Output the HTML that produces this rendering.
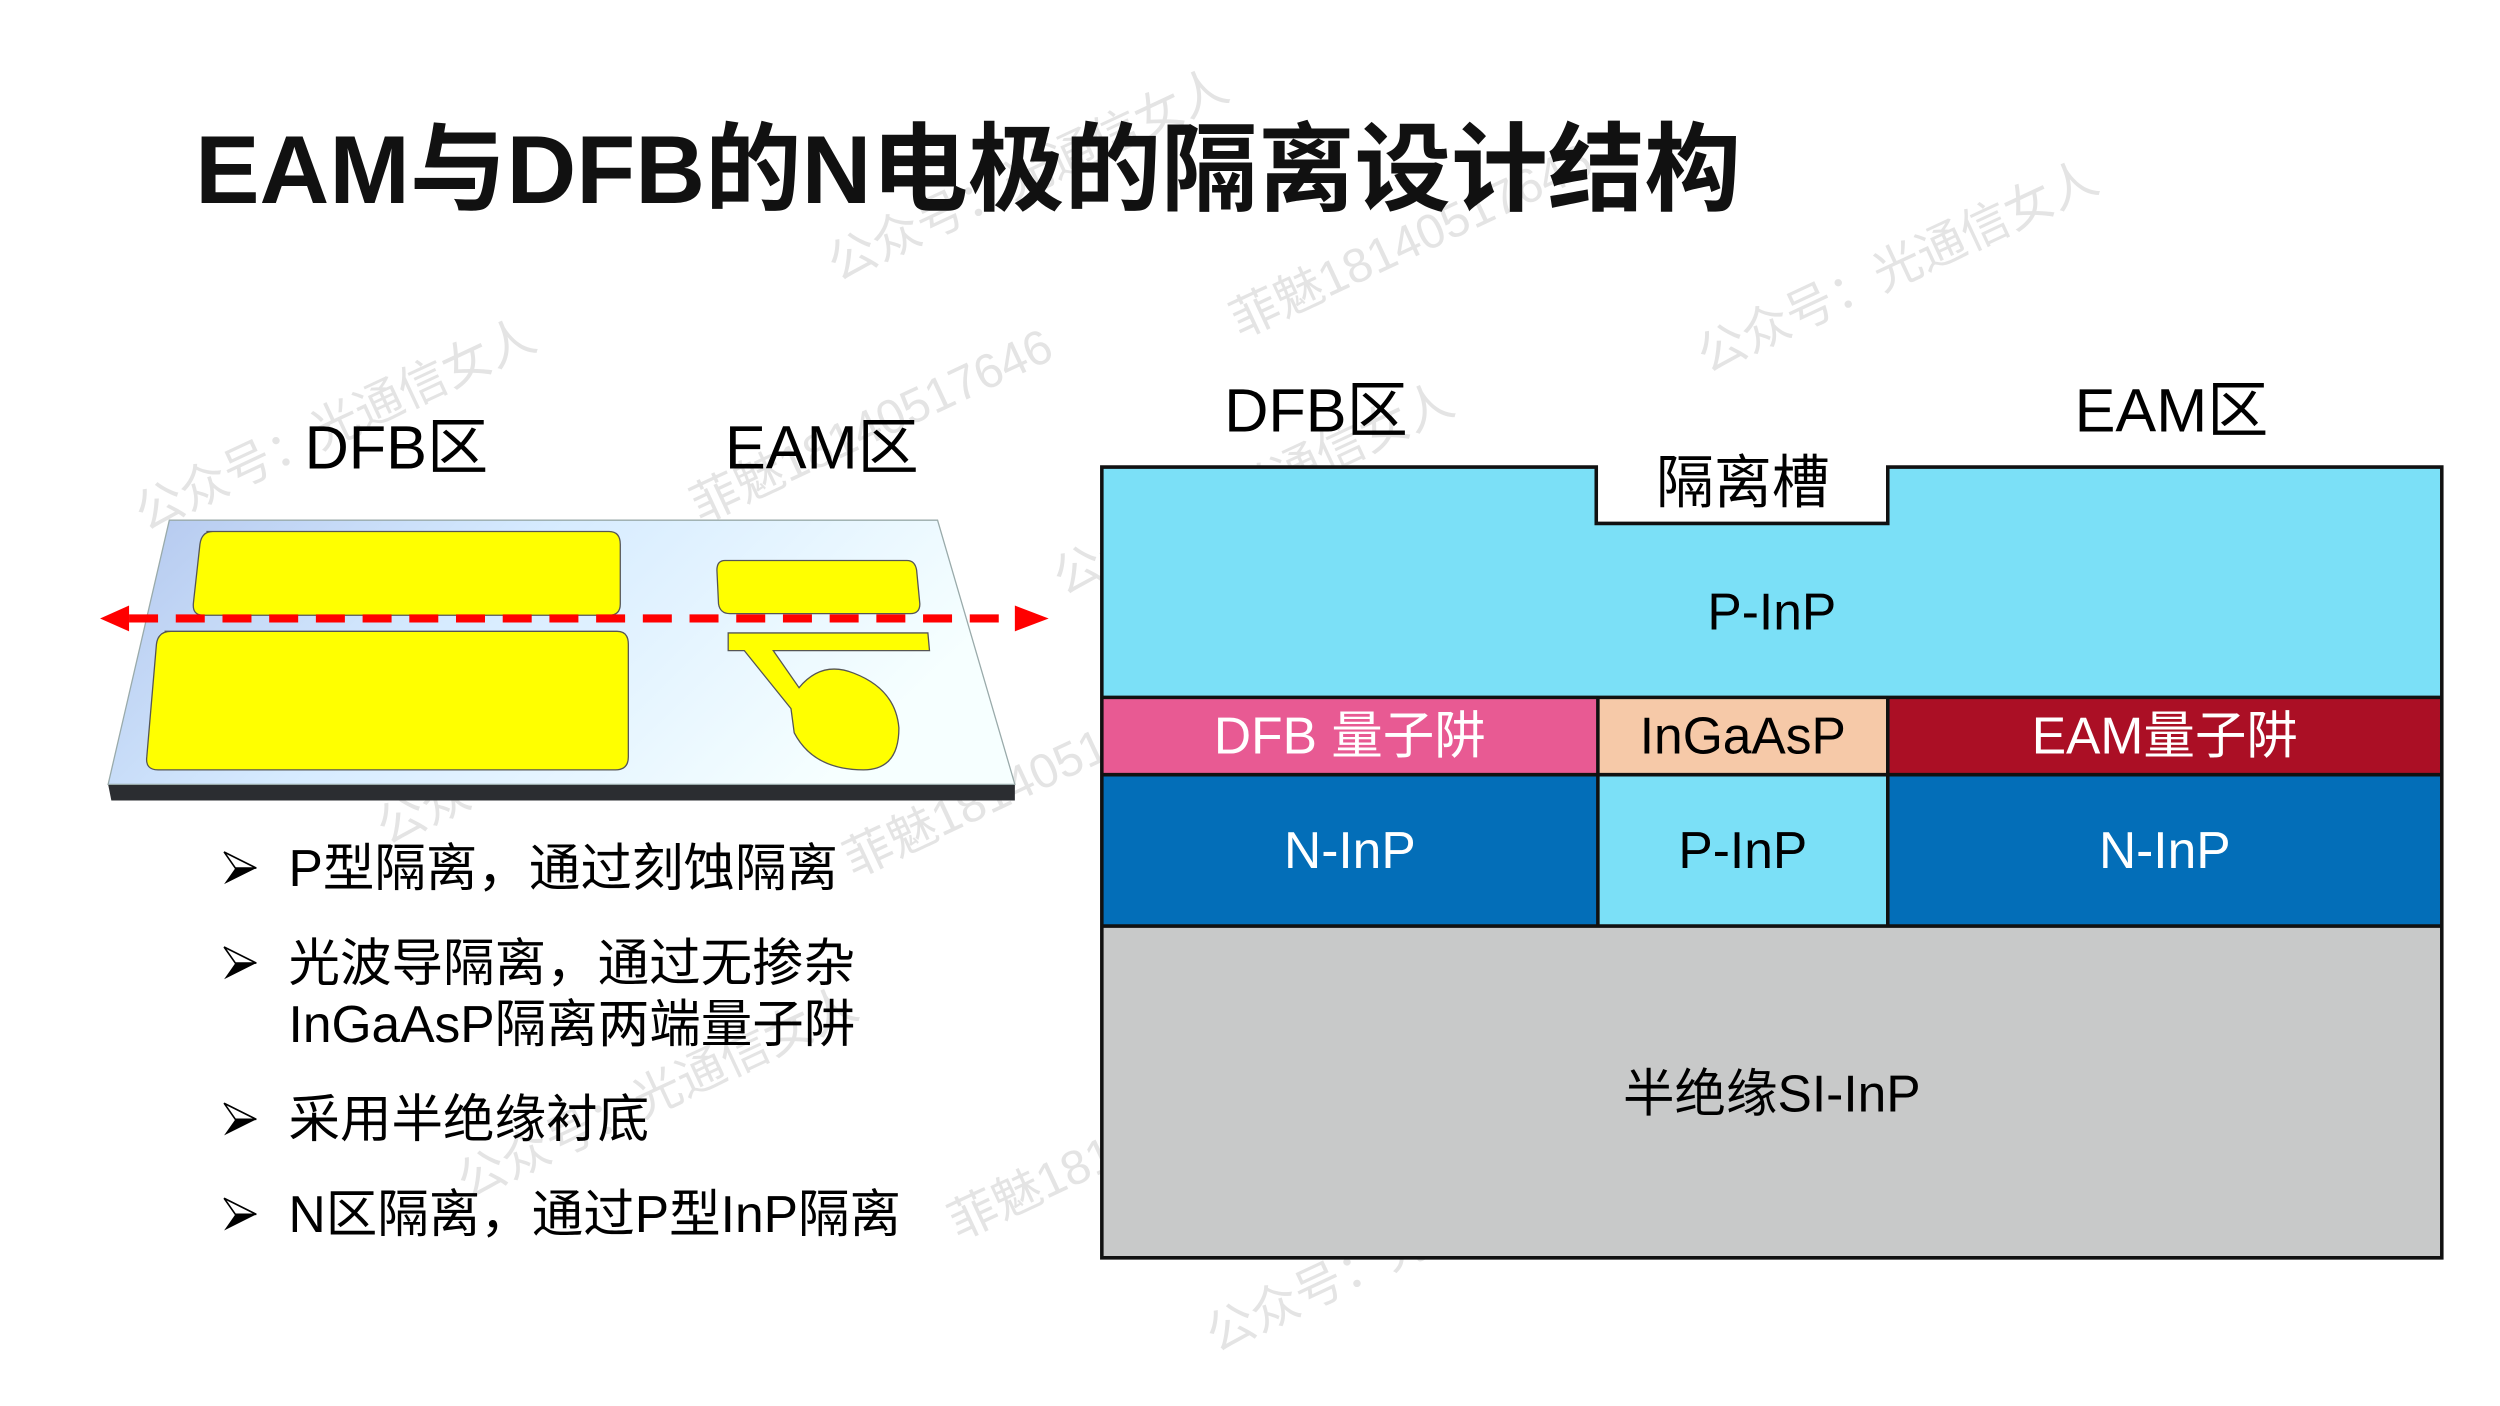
<!DOCTYPE html>
<html><head><meta charset="utf-8"><style>
html,body{margin:0;padding:0;background:#fff;width:2500px;height:1406px;overflow:hidden}
svg{display:block}
text{font-family:"Liberation Sans","Noto Sans CJK SC",sans-serif}
</style></head><body>
<svg width="2500" height="1406" viewBox="0 0 1552 873" xmlns="http://www.w3.org/2000/svg">
<defs>
<linearGradient id="chip" x1="0" y1="0" x2="1" y2="0.3">
<stop offset="0" stop-color="#b3c7ee"/><stop offset="0.45" stop-color="#d6ebff"/><stop offset="1" stop-color="#f6ffff"/>
</linearGradient>
<g id="bul"><polygon points="0,-10 20,0 0,10 7,0" fill="#000"/><polygon points="0,-10 20,0 7,0" fill="#fff" stroke="#000" stroke-width="1"/></g>
</defs>
<!-- watermarks -->
<g fill="#e4e4e4" font-size="30" font-family="Liberation Serif,Noto Serif CJK SC,serif">
<text transform="translate(520,175) rotate(-25)">公众号：光通信女人</text>
<text transform="translate(770,210) rotate(-25)">菲魅18140517646</text>
<text transform="translate(1060,232) rotate(-25)">公众号：光通信女人</text>
<text transform="translate(90,330) rotate(-25)">公众号：光通信女人</text>
<text transform="translate(435,325) rotate(-25)">菲魅18140517646</text>
<text transform="translate(660,370) rotate(-25)">公众号：光通信女人</text>
<text transform="translate(240,525) rotate(-25)">公众号：光通信女人</text>
<text transform="translate(530,545) rotate(-25)">菲魅18140517646</text>
<text transform="translate(290,745) rotate(-25)">公众号：光通信女人</text>
<text transform="translate(595,770) rotate(-25)">菲魅18140517646</text>
<text transform="translate(755,840) rotate(-25)">公众号：光通信女人</text>
</g>
<!-- title -->
<text x="121" y="126" font-size="60" font-weight="bold" fill="#111">EAM与DFB的N电极的隔离设计结构</text>
<!-- left labels -->
<text x="189" y="291" font-size="38" fill="#000">DFB区</text>
<text x="450" y="291" font-size="38" fill="#000">EAM区</text>
<!-- chip -->
<polygon points="67,487 630,487 624,497 72,497" fill="#2b2d31"/>
<polygon points="67,487 69,497 630,497 630,487" fill="#2b2d31"/>
<polygon points="105,323 582,323 630,487 67,487" fill="url(#chip)" stroke="#9aa" stroke-width="0.8"/>
<path d="M128,330 H378 Q385,330 385,338 V375 Q385,382 378,382 H126 Q119,382 120,374 L124,338 Q125,330 132,330 Z" fill="#ffff00" stroke="#555" stroke-width="0.8"/>
<path d="M102,392 H383 Q390,392 390,400 V470 Q390,478 382,478 H98 Q90,478 91,470 L97,400 Q98,392 106,392 Z" fill="#ffff00" stroke="#555" stroke-width="0.8"/>
<path d="M450,348 H563 Q568,348 569,354 L571,375 Q571,381 565,381 H453 Q447,381 446,375 L445,354 Q445,348 450,348 Z" fill="#ffff00" stroke="#555" stroke-width="0.8"/>
<path d="M452,393 L576,393 L577,404 L480,404 L496,427 Q510,410 530,418 Q556,428 558,452 Q558,478 536,478 Q505,478 493,455 L491,440 L462,404 L452,404 Z" fill="#ffff00" stroke="#555" stroke-width="0.8"/>
<line x1="80" y1="384" x2="630" y2="384" stroke="#f00" stroke-width="5" stroke-dasharray="18,11"/>
<polygon points="62,384 80,376 80,392" fill="#f00"/>
<polygon points="651,384 630,376 630,392" fill="#f00"/>
<!-- bullets -->
<use href="#bul" x="139" y="539"/>
<use href="#bul" x="139" y="598"/>
<use href="#bul" x="139" y="695"/>
<use href="#bul" x="139" y="754"/>
<g font-size="32" fill="#000">
<text x="179" y="550">P型隔离，通过刻蚀隔离</text>
<text x="179" y="609">光波导隔离，通过无掺杂</text>
<text x="179" y="647">InGaAsP隔离两端量子阱</text>
<text x="179" y="706">采用半绝缘衬底</text>
<text x="179" y="765">N区隔离，通过P型InP隔离</text>
</g>
<!-- right diagram -->
<text x="760" y="268" font-size="38" fill="#000">DFB区</text>
<text x="1288" y="268" font-size="38" fill="#000">EAM区</text>
<rect x="684" y="575" width="832" height="206" fill="#c8c9c9"/>
<rect x="684" y="481" width="308" height="94" fill="#036eb8"/>
<rect x="992" y="481" width="180" height="94" fill="#7be0f7"/>
<rect x="1172" y="481" width="344" height="94" fill="#036eb8"/>
<rect x="684" y="433" width="308" height="48" fill="#e85a93"/>
<rect x="992" y="433" width="180" height="48" fill="#f6c9a8"/>
<rect x="1172" y="433" width="344" height="48" fill="#ab0f25"/>
<polygon points="684,290 991,290 991,325 1172,325 1172,290 1516,290 1516,433 684,433" fill="#7be0f7"/>
<g stroke="#111" stroke-width="2.2" fill="none">
<polygon points="684,290 991,290 991,325 1172,325 1172,290 1516,290 1516,781 684,781"/>
<line x1="684" y1="433" x2="1516" y2="433"/>
<line x1="684" y1="481" x2="1516" y2="481"/>
<line x1="684" y1="575" x2="1516" y2="575"/>
<line x1="992" y1="433" x2="992" y2="575"/>
<line x1="1172" y1="433" x2="1172" y2="575"/>
</g>
<g font-size="32" text-anchor="middle">
<text x="1082" y="312" font-size="36" fill="#000">隔离槽</text>
<text x="1100" y="391" fill="#000">P-InP</text>
<text x="838" y="468" fill="#fff">DFB 量子阱</text>
<text x="1082" y="468" fill="#000">InGaAsP</text>
<text x="1344" y="468" fill="#fff">EAM量子阱</text>
<text x="838" y="539" fill="#fff">N-InP</text>
<text x="1082" y="539" fill="#000">P-InP</text>
<text x="1344" y="539" fill="#fff">N-InP</text>
<text x="1100" y="690" fill="#000">半绝缘SI-InP</text>
</g>
</svg>
</body></html>
